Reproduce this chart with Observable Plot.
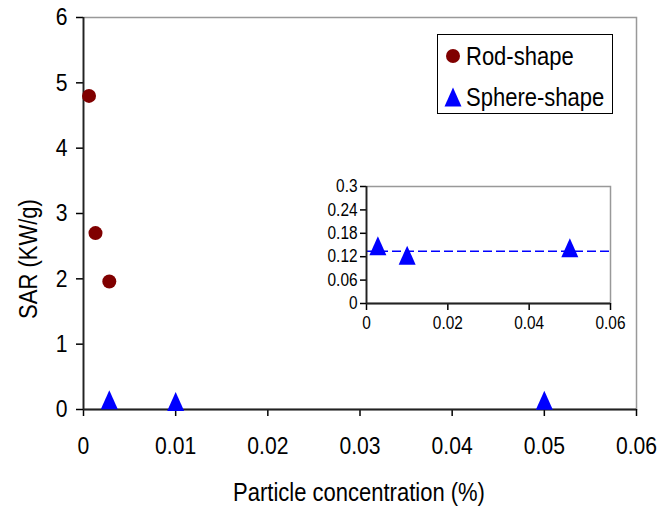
<!DOCTYPE html>
<html><head><meta charset="utf-8">
<script src="https://cdn.jsdelivr.net/npm/d3@7"></script>
<script src="https://cdn.jsdelivr.net/npm/@observablehq/plot@0.6"></script>
<style>
body{margin:0;background:#fff;}
#wrap{position:relative;width:672px;height:508px;overflow:hidden;background:#fff;}
#wrap > svg{position:absolute;left:0;top:0;}
.ttl{position:absolute;font-family:"Liberation Sans",Arial,sans-serif;font-size:25px;color:#000;white-space:nowrap;}
#legend{position:absolute;left:437px;top:34px;width:176px;height:80px;box-sizing:border-box;border:1px solid #000;background:#fff;}
.li{position:absolute;left:0;height:30px;width:174px;font-family:"Liberation Sans",Arial,sans-serif;font-size:25px;line-height:30px;white-space:nowrap;}
.li span{position:absolute;left:28px;top:0;transform:scaleX(0.88);transform-origin:0 50%;}
</style></head><body><div id="wrap"></div>
<script>
// ---- data ----
const rodX = [0.0006, 0.0013, 0.0028];
const rodY = [4.80, 2.70, 1.96];
const sphereX = [0.0028, 0.01, 0.05];
const sphereY = [0.148, 0.124, 0.143];
const sphereTrend = [0.134];
const xTicks = [0, 0.01, 0.02, 0.03, 0.04, 0.05, 0.06];
const yTicks = [0, 1, 2, 3, 4, 5, 6];
const insetXTicks = [0, 0.02, 0.04, 0.06];
const insetYTicks = [0, 0.06, 0.12, 0.18, 0.24, 0.3];
const seriesNames = ["Rod-shape", "Sphere-shape"];
const seriesColors = ["#800000", "#0000ff"];
const xLabel = "Particle concentration (%)";
const yLabel = "SAR (KW/g)";

const FONT = '"Liberation Sans",Arial,sans-serif';
const NARROW = 0.88;
const rod = rodX.map((x, i) => ({x, y: rodY[i]}));
const sphere = sphereX.map((x, i) => ({x, y: sphereY[i]}));

// Excel-like triangle marker (bounding box centred on the point)
const tri = {draw(ctx) { const w = 8.5, h = 9.5; ctx.moveTo(0, -h); ctx.lineTo(w, h); ctx.lineTo(-w, h); ctx.closePath(); }};

const wrap = document.getElementById("wrap");
const fmt = d3.format("");

const main = Plot.plot({
  width: 672, height: 508,
  marginLeft: 83, marginRight: 36, marginTop: 17, marginBottom: 99,
  style: {fontFamily: FONT, fontSize: "24px", background: "transparent", color: "#000", overflow: "visible"},
  x: {domain: [0, 0.06]},
  y: {domain: [0, 6]},
  marks: [
    Plot.frame({stroke: "#999", strokeWidth: 1.5}),
    Plot.axisX({ticks: xTicks, tickSize: 7, tickPadding: 20, label: null, strokeWidth: 1.5, tickFormat: fmt}),
    Plot.axisY({ticks: yTicks, tickSize: 7, tickPadding: 9, label: null, strokeWidth: 1.5, tickFormat: fmt}),
    Plot.ruleY([0], {stroke: "#222", strokeWidth: 1.8}),
    Plot.ruleX([0], {stroke: "#222", strokeWidth: 1.8}),
    Plot.dot(rod, {x: "x", y: "y", r: 7, fill: seriesColors[0], symbol: "circle"}),
    Plot.dot(sphere, {x: "x", y: "y", fill: seriesColors[1], symbol: tri})
  ]
});
wrap.appendChild(main);

const inset = Plot.plot({
  width: 340, height: 170,
  marginLeft: 66, marginRight: 30, marginTop: 16, marginBottom: 37,
  style: {fontFamily: FONT, fontSize: "17.5px", background: "transparent", color: "#000", overflow: "visible"},
  x: {domain: [0, 0.06]},
  y: {domain: [0, 0.3]},
  marks: [
    Plot.frame({stroke: "#999", strokeWidth: 1.5, fill: "#fff"}),
    Plot.axisX({ticks: insetXTicks, tickSize: 7, tickPadding: 6, label: null, strokeWidth: 1.5, tickFormat: fmt}),
    Plot.axisY({ticks: insetYTicks, tickSize: 6, tickPadding: 3, label: null, strokeWidth: 1.5, tickFormat: fmt}),
    Plot.ruleY(sphereTrend, {stroke: seriesColors[1], strokeWidth: 1.6, strokeDasharray: "9,4"}),
    Plot.ruleY([0], {stroke: "#222", strokeWidth: 1.8}),
    Plot.ruleX([0], {stroke: "#222", strokeWidth: 1.8}),
    Plot.dot(sphere, {x: "x", y: "y", fill: seriesColors[1], symbol: tri})
  ]
});
inset.style.left = "300px";
inset.style.top = "170px";
wrap.appendChild(inset);

// condense tick label glyphs horizontally (the reference uses a narrow face)
for (const svg of [main, inset]) {
  svg.querySelectorAll("text").forEach(t => {
    const L = t.getComputedTextLength();
    if (L > 0) { t.setAttribute("textLength", (L * NARROW).toFixed(2)); t.setAttribute("lengthAdjust", "spacingAndGlyphs"); }
  });
}

// axis titles
const xt = document.createElement("div");
xt.className = "ttl"; xt.textContent = xLabel;
xt.style.left = "359px"; xt.style.top = "492px"; xt.style.transform = `translate(-50%,-50%) scaleX(${NARROW})`;
wrap.appendChild(xt);
const yt = document.createElement("div");
yt.className = "ttl"; yt.textContent = yLabel;
yt.style.left = "28px"; yt.style.top = "259px"; yt.style.transform = `translate(-50%,-50%) rotate(-90deg) scaleX(${NARROW})`;
wrap.appendChild(yt);

// legend
const lg = document.createElement("div");
lg.id = "legend";
seriesNames.forEach((name, i) => {
  const item = document.createElement("div");
  item.className = "li";
  item.style.top = (i === 0 ? 6 : 47) + "px";
  const shape = i === 0
    ? `<circle cx="10" cy="10" r="7" fill="${seriesColors[0]}"/>`
    : `<path d="M10,0.5L18.5,19.5L1.5,19.5Z" fill="${seriesColors[1]}"/>`;
  item.innerHTML = `<svg width="20" height="20" style="position:absolute;left:5px;top:5px">${shape}</svg><span>${name}</span>`;
  lg.appendChild(item);
});
wrap.appendChild(lg);
</script>
</body></html>
